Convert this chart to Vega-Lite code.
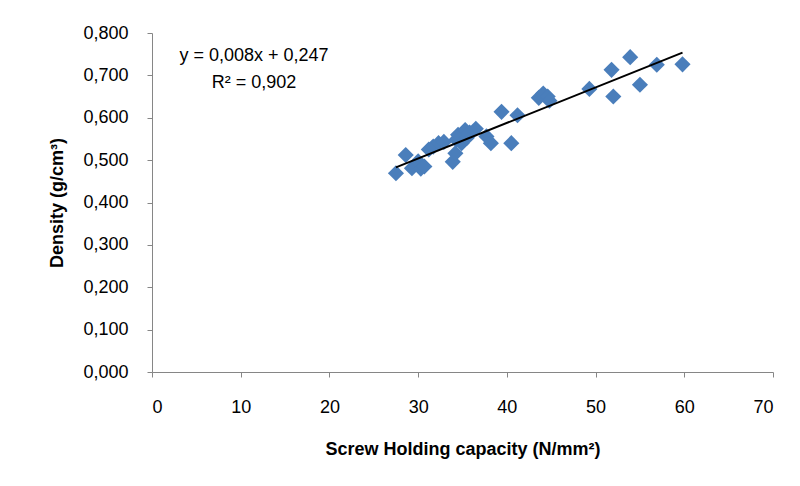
{
  "$schema": "https://vega.github.io/schema/vega-lite/v6.json",
  "width": 621,
  "height": 339,
  "autosize": {"type": "none"},
  "padding": {"left": 152, "top": 33, "right": 27, "bottom": 114},
  "background": "white",
  "config": {
    "view": {"stroke": null},
    "font": "Liberation Sans",
    "axis": {
      "grid": false,
      "domainColor": "#868686",
      "tickColor": "#868686",
      "tickSize": 5,
      "labelFontSize": 18,
      "labelColor": "#000000",
      "titleFontSize": 18,
      "titleFontWeight": "bold",
      "titleColor": "#000000",
      "labelFont": "Liberation Sans",
      "titleFont": "Liberation Sans"
    }
  },
  "layer": [
    {
      "data": {"name": "pts", "values": [
        {"x": 27.5, "y": 0.469}, {"x": 28.6, "y": 0.512}, {"x": 29.3, "y": 0.481},
        {"x": 30.0, "y": 0.497}, {"x": 30.3, "y": 0.480}, {"x": 30.7, "y": 0.485},
        {"x": 31.2, "y": 0.525}, {"x": 31.7, "y": 0.532}, {"x": 32.3, "y": 0.540},
        {"x": 32.9, "y": 0.543}, {"x": 33.9, "y": 0.496}, {"x": 34.2, "y": 0.516},
        {"x": 34.3, "y": 0.548}, {"x": 34.5, "y": 0.560}, {"x": 34.9, "y": 0.540},
        {"x": 35.3, "y": 0.571}, {"x": 35.5, "y": 0.553}, {"x": 35.8, "y": 0.565},
        {"x": 36.5, "y": 0.574}, {"x": 37.7, "y": 0.556}, {"x": 38.2, "y": 0.540},
        {"x": 39.4, "y": 0.614}, {"x": 40.5, "y": 0.540}, {"x": 41.2, "y": 0.606},
        {"x": 43.6, "y": 0.647}, {"x": 44.1, "y": 0.657}, {"x": 44.6, "y": 0.650},
        {"x": 44.8, "y": 0.640}, {"x": 49.3, "y": 0.668}, {"x": 51.8, "y": 0.713},
        {"x": 52.0, "y": 0.650}, {"x": 53.9, "y": 0.743}, {"x": 55.0, "y": 0.678},
        {"x": 56.9, "y": 0.725}, {"x": 59.8, "y": 0.726}
      ]},
      "layer": [
        {
          "mark": {"type": "point", "shape": "diamond", "filled": true, "size": 260, "color": "#4A7EBB", "opacity": 1},
          "encoding": {
            "x": {
              "field": "x", "type": "quantitative",
              "scale": {"domain": [0, 70], "nice": false, "zero": false},
              "axis": {"values": [0, 10, 20, 30, 40, 50, 60, 70], "labelPadding": 21, "titlePadding": 24},
              "title": "Screw Holding  capacity  (N/mm²)"
            },
            "y": {
              "field": "y", "type": "quantitative",
              "scale": {"domain": [0, 0.8], "nice": false},
              "axis": {
                "values": [0, 0.1, 0.2, 0.3, 0.4, 0.5, 0.6, 0.7, 0.8],
                "labelExpr": "replace(format(datum.value, '.3f'), '.', ',')",
                "labelPadding": 19,
                "titlePadding": 16
              },
              "title": "Density (g/cm³)"
            }
          }
        },
        {
          "transform": [{"regression": "y", "on": "x"}],
          "mark": {"type": "line", "color": "#000000", "strokeWidth": 2},
          "encoding": {
            "x": {"field": "x", "type": "quantitative"},
            "y": {"field": "y", "type": "quantitative"}
          }
        }
      ]
    },
    {
      "data": {"values": [
        {"x": 11.5, "y": 0.745, "t": "y = 0,008x + 0,247"},
        {"x": 11.5, "y": 0.681, "t": "R² = 0,902"}
      ]},
      "mark": {"type": "text", "fontSize": 18, "color": "#000000", "align": "center", "baseline": "middle"},
      "encoding": {
        "x": {"field": "x", "type": "quantitative"},
        "y": {"field": "y", "type": "quantitative"},
        "text": {"field": "t"}
      }
    }
  ]
}
